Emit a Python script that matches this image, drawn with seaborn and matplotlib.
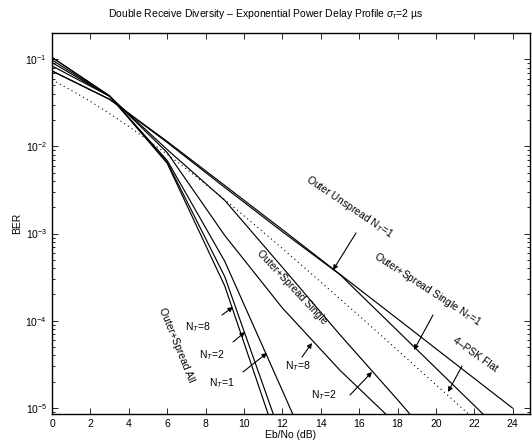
import numpy as np
import pandas as pd
import matplotlib
matplotlib.use('Agg')
import matplotlib.pyplot as plt
import seaborn as sns

# Eb/No grid of the simulated curves (dB)
ebno = [0, 3, 6, 9, 12, 15, 18, 21, 24]

# BER
unspread_nt1 = [0.0734, 0.0347, 0.0114, 3.56e-3, 1.11e-3, 3.41e-4, 1.05e-4, 3.22e-5, 9.9e-6]
single_nt1 = [0.0734, 0.0347, 0.0111, 3.38e-3, 1.05e-3, 3.38e-4, 7.67e-5, 1.74e-5, 3.96e-6]
single_nt2 = [0.0838, 0.0376, 9.2e-3, 2.4e-3, 4.1e-4, 6.9e-5, 1.24e-5, 2.1e-6, 3e-7]
single_nt8 = [0.0916, 0.0376, 8.5e-3, 9.5e-4, 1.4e-4, 2.7e-5, 6.3e-6, 1e-6, 2e-7]
all_nt1 = [0.098, 0.0376, 6.9e-3, 4.8e-4, 1.58e-5, 5e-7, 2e-8, 1e-9, 1e-10]
all_nt2 = [0.105, 0.038, 6.6e-3, 3.2e-4, 4.3e-6, 6e-8, 1e-9, 1e-10, 1e-11]
all_nt8 = [0.105, 0.038, 6.4e-3, 2.5e-4, 2.8e-6, 3e-8, 1e-9, 1e-10, 1e-11]

# 4-PSK flat fading reference, 1 dB steps
flat_ebno = list(range(0, 25))
flat_ber = [0.0581, 0.0441, 0.0328, 0.0238, 0.0169, 0.0118, 8.13e-3, 5.51e-3,
            3.68e-3, 2.44e-3, 1.60e-3, 1.04e-3, 6.74e-4, 4.34e-4, 2.78e-4,
            1.78e-4, 1.14e-4, 7.22e-5, 4.59e-5, 2.90e-5, 1.84e-5, 1.17e-5,
            7.39e-6, 4.67e-6, 2.95e-6]

curves = {
    'unspread_nt1': unspread_nt1,
    'single_nt1': single_nt1,
    'single_nt2': single_nt2,
    'single_nt8': single_nt8,
    'all_nt1': all_nt1,
    'all_nt2': all_nt2,
    'all_nt8': all_nt8,
}

sns.set_style('ticks', {'axes.edgecolor': 'black', 'text.color': 'black',
                        'xtick.color': 'black', 'ytick.color': 'black',
                        'axes.labelcolor': 'black'})
plt.rcParams['font.family'] = ['Liberation Sans', 'DejaVu Sans']
plt.rcParams['mathtext.fontset'] = 'custom'
plt.rcParams['mathtext.rm'] = 'Liberation Sans'
plt.rcParams['mathtext.it'] = 'Liberation Sans:italic'

fig = plt.figure(figsize=(5.32, 4.43), dpi=100)
ax = fig.add_axes([52 / 532, 29 / 443, 478 / 532, 381 / 443])

for name, ber in curves.items():
    sns.lineplot(x=ebno, y=ber, color='black', linewidth=0.85, ax=ax, legend=False)
sns.lineplot(x=flat_ebno, y=flat_ber, color='black', linewidth=0.8,
             linestyle=(0, (1, 3)), ax=ax, legend=False)

ax.set_yscale('log')
ax.set_xlim(0, 24.9)
ax.set_ylim(8.5e-6, 0.2)
ax.set_xticks(range(0, 25, 2))
ax.tick_params(which='both', direction='in', top=True, right=True, labelsize=7.5,
               colors='black')
ax.tick_params(which='major', length=4, width=0.6)
ax.tick_params(which='minor', length=2, width=0.6)
for s in ax.spines.values():
    s.set_linewidth(1.0)
    s.set_color('black')
ax.set_xlabel('Eb/No (dB)', fontsize=7.5, labelpad=1, color='black')
ax.set_ylabel('BER', fontsize=7.5, labelpad=2, color='black')
fig.suptitle(r'Double Receive Diversity – Exponential Power Delay Profile $\sigma_\tau$=2 µs',
             fontsize=7.5, y=0.985, color='black')

def px(x, y):
    # pixel position of the reference -> figure fraction
    return (x / 532, 1 - y / 443)

arrow = dict(arrowstyle='-|>', color='black', lw=0.8, mutation_scale=7,
             shrinkA=0, shrinkB=0)
tkw = dict(fontsize=7.5, ha='center', va='center', rotation_mode='anchor',
           color='black')

# labels with arrows
ax.annotate('', xy=px(333, 270), xytext=px(356, 233), xycoords='figure fraction',
            textcoords='figure fraction', arrowprops=arrow)
fig.text(*px(349, 207), r'Outer Unspread N$_T$=1', rotation=-34, **tkw)

ax.annotate('', xy=px(414, 350), xytext=px(433, 315), xycoords='figure fraction',
            textcoords='figure fraction', arrowprops=arrow)
fig.text(*px(428, 289), r'Outer+Spread Single N$_T$=1', rotation=-33, **tkw)

ax.annotate('', xy=px(448, 392), xytext=px(462, 366), xycoords='figure fraction',
            textcoords='figure fraction', arrowprops=arrow)
fig.text(*px(475, 355), '4–PSK Flat', rotation=-35, **tkw)

fig.text(*px(292, 287), 'Outer+Spread Single', rotation=-47, **tkw)
ax.annotate('', xy=px(312, 343), xytext=px(302, 357), xycoords='figure fraction',
            textcoords='figure fraction', arrowprops=arrow)
fig.text(*px(298, 366), r'N$_T$=8', **tkw)
ax.annotate('', xy=px(372, 372), xytext=px(350, 395), xycoords='figure fraction',
            textcoords='figure fraction', arrowprops=arrow)
fig.text(*px(324, 395), r'N$_T$=2', **tkw)

fig.text(*px(177, 345), 'Outer+Spread All', rotation=-68, **tkw)
ax.annotate('', xy=px(233, 307), xytext=px(222, 315), xycoords='figure fraction',
            textcoords='figure fraction', arrowprops=arrow)
fig.text(*px(198, 327), r'N$_T$=8', **tkw)
ax.annotate('', xy=px(245, 332), xytext=px(233, 342), xycoords='figure fraction',
            textcoords='figure fraction', arrowprops=arrow)
fig.text(*px(212, 355), r'N$_T$=2', **tkw)
ax.annotate('', xy=px(267, 353), xytext=px(243, 372), xycoords='figure fraction',
            textcoords='figure fraction', arrowprops=arrow)
fig.text(*px(222, 383), r'N$_T$=1', **tkw)

fig.savefig('out.png', dpi=100)
